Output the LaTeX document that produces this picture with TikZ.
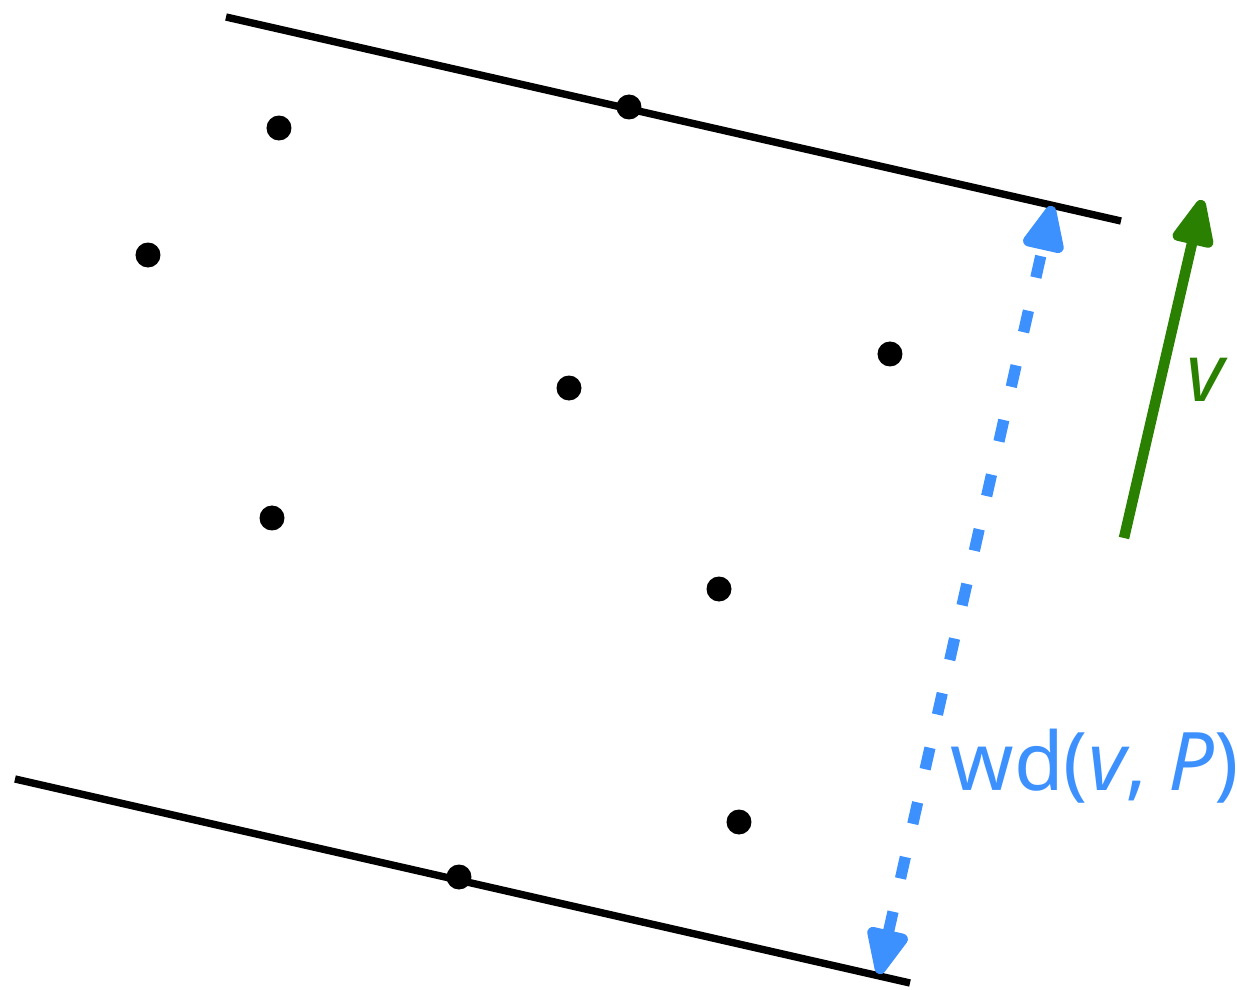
\documentclass[tikz,border=0pt]{standalone}
\usepackage{fontspec}
\setmainfont{Noto Sans}
\usetikzlibrary{arrows.meta}
\definecolor{WidthBlue}{RGB}{61,145,255}
\definecolor{DirGreen}{RGB}{42,128,0}

\begin{document}
\begin{tikzpicture}[x=1cm,y=1cm,
		pt/.style={circle,fill=black,inner sep=0pt,minimum size=0.25cm},
		slab/.style={black,line width=2.1pt},
		widtharrow/.style={WidthBlue,line width=3.2pt,dash pattern=on 2.2mm off 3.4mm,
			{Triangle[length=5.4mm,width=4.4mm,round]}-{Triangle[length=5.4mm,width=4.4mm,round]}},
		dirarrow/.style={DirGreen,line width=3pt,-{Triangle[length=5.4mm,width=4.4mm,round]}},
		lbl/.style={inner sep=0pt,anchor=base west,font=\fontsize{23}{27}\selectfont}]
	\useasboundingbox (0,0) rectangle (12.37,9.89);
	% supporting lines of the slab
	\coordinate (topA) at (2.26,9.72);
	\coordinate (topB) at (11.21,7.68);
	\coordinate (botA) at (0.15,2.10);
	\coordinate (botB) at (9.10,0.06);
	\draw[slab] (topA)--(topB);
	\draw[slab] (botA)--(botB);
	% the point set P
	\node[pt] (p1) at (2.79,8.61) {};
	\node[pt] (p2) at (1.48,7.34) {};
	\node[pt] (p3) at (6.29,8.82) {};
	\node[pt] (p4) at (5.69,6.01) {};
	\node[pt] (p5) at (8.90,6.35) {};
	\node[pt] (p6) at (2.72,4.71) {};
	\node[pt] (p7) at (7.19,4.00) {};
	\node[pt] (p8) at (7.39,1.67) {};
	\node[pt] (p9) at (4.59,1.12) {};
	% width in direction v
	\coordinate (wdTop) at (10.52,7.83);
	\coordinate (wdBot) at (8.79,0.15);
	\draw[widtharrow] (wdBot)--(wdTop);
	\node[lbl,text=WidthBlue] (wdlbl) at (9.50,1.99) {wd(\textit{v}, \textit{P})};
	% direction v
	\coordinate (vTail) at (11.24,4.51);
	\coordinate (vHead) at (12.02,7.89);
	\draw[dirarrow] (vTail)--(vHead);
	\node[lbl,text=DirGreen] (vlbl) at (11.86,5.87) {\textit{v}};
\end{tikzpicture}
\end{document}
